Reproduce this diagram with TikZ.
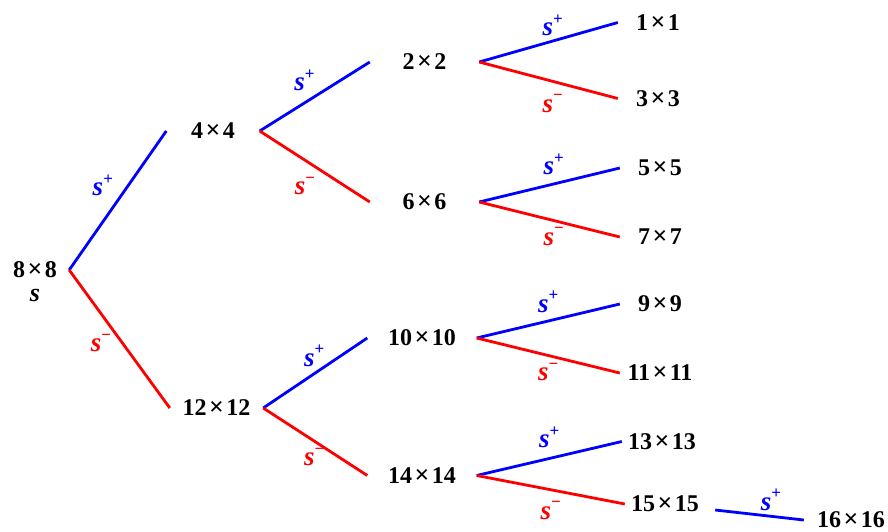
\documentclass[tikz,border=0pt]{standalone}
\usepackage{fontspec}
\setmainfont{Liberation Serif}
\usepackage{tikz}
\usetikzlibrary{positioning}
\newcommand{\tms}{\hspace{.1em}{\fontsize{26}{26}\selectfont ×}\hspace{.1em}}
\newcommand{\splus}{\textit{s}\raisebox{.42em}{\fontsize{17}{17}\selectfont +}}
\newcommand{\sminus}{\textit{s}\raisebox{.42em}{\fontsize{17}{17}\selectfont −}}
\tikzset{
    cell/.style={inner sep=0pt, font=\bfseries\fontsize{24}{28}\selectfont},
    lvl0/.style={cell, minimum width=68pt},
    lvl1/.style={cell, minimum width=93pt},
    lvl2/.style={cell, minimum width=109pt},
    leaf/.style={cell, minimum width=80pt},
    last/.style={cell, minimum width=94pt},
    upedge/.style={draw=blue, line width=2.8pt},
    downedge/.style={draw=red, line width=2.8pt},
    uplbl/.style={cell, font=\bfseries\fontsize{27}{28}\selectfont, inner sep=2pt, text=blue},
    downlbl/.style={cell, font=\bfseries\fontsize{27}{28}\selectfont, inner sep=2pt, text=red}
}
\begin{document}
\begin{tikzpicture}[x=1pt, y=-1pt]
    \useasboundingbox (0,0) rectangle (888,532);
    \node (n8) [lvl0] at (35,270) {8\tms8};
    \node (s8) [cell, font=\bfseries\itshape\fontsize{26}{28}\selectfont, below=11pt of n8] {s};
    \node (n4) [lvl1] at (213,131) {4\tms4};
    \node (n12) [lvl1] at (216.5,408) {12\tms12};
    \node (n2) [lvl2] at (424.5,62) {2\tms2};
    \node (n6) [lvl2] at (424.5,202) {6\tms6};
    \node (n10) [lvl2] at (422,338) {10\tms10};
    \node (n14) [lvl2] at (422,475.5) {14\tms14};
    \node (n1) [leaf] at (658,22.5) {1\tms1};
    \node (n3) [leaf] at (658,98.5) {3\tms3};
    \node (n5) [leaf] at (660,168) {5\tms5};
    \node (n7) [leaf] at (660,237) {7\tms7};
    \node (n9) [leaf] at (660,304) {9\tms9};
    \node (n11) [leaf] at (660,373) {11\tms11};
    \node (n13) [leaf] at (662,441.5) {13\tms13};
    \node (n15) [leaf] at (665,504) {15\tms15};
    \node (n16) [last] at (851,520) {16\tms16};

    \draw [upedge] (n8.east) -- node[uplbl, pos=.5, above left=2pt] {\splus} (n4.west);
    \draw [downedge] (n8.east) -- node[downlbl, pos=.53, left=8pt] {\sminus} (n12.west);
    \draw [upedge] (n4.east) -- node[uplbl, pos=.53, above left=0pt] {\splus} (n2.west);
    \draw [downedge] (n4.east) -- node[downlbl, pos=.56, below left=4pt] {\sminus} (n6.west);
    \draw [upedge] (n12.east) -- node[uplbl, pos=.49, above=4pt] {\splus} (n10.west);
    \draw [downedge] (n12.east) -- node[downlbl, pos=.49, below=3.5pt] {\sminus} (n14.west);
    \draw [upedge] (n2.east) -- node[uplbl, pos=.53, above=2pt] {\splus} (n1.west);
    \draw [downedge] (n2.east) -- node[downlbl, pos=.53, below=10pt] {\sminus} (n3.west);
    \draw [upedge] (n6.east) -- node[uplbl, pos=.53, above=5.5pt] {\splus} (n5.west);
    \draw [downedge] (n6.east) -- node[downlbl, pos=.53, below=3.5pt] {\sminus} (n7.west);
    \draw [upedge] (n10.east) -- node[uplbl, pos=.5, above=5pt] {\splus} (n9.west);
    \draw [downedge] (n10.east) -- node[downlbl, pos=.5, below=4pt] {\sminus} (n11.west);
    \draw [upedge] (n14.east) -- node[uplbl, pos=.5, above=7pt] {\splus} (n13.west);
    \draw [downedge] (n14.east) -- node[downlbl, pos=.5, below=8.5pt] {\sminus} (n15.west);
    \draw [upedge] ([shift={(10pt,-6pt)}]n15.east) -- node[uplbl, pos=.63, above=2.5pt] {\splus} (n16.west);
\end{tikzpicture}
\end{document}
